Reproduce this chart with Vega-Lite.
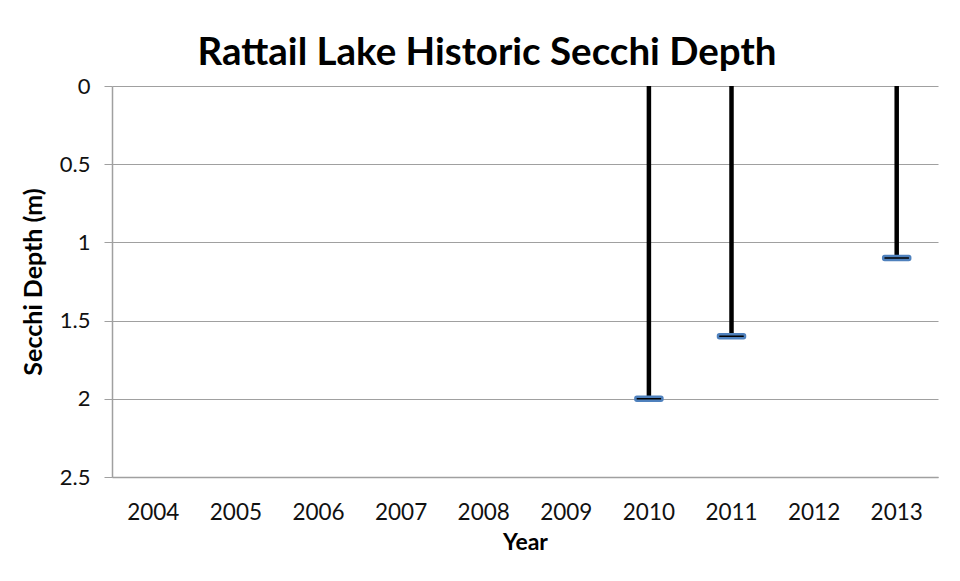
{
  "$schema": "https://vega.github.io/schema/vega-lite/v6.json",
  "width": 826,
  "height": 391,
  "autosize": {"type": "none"},
  "padding": {"left": 112, "top": 86, "right": 22, "bottom": 104},
  "background": "white",
  "title": {
    "text": "Rattail Lake Historic Secchi Depth",
    "font": "Lato",
    "fontSize": 38.5,
    "fontWeight": "bold",
    "color": "#000000",
    "anchor": "middle",
    "dx": -38,
    "offset": 2
  },
  "config": {
    "view": {"stroke": null},
    "font": "Lato"
  },
  "data": {
    "values": [
      {"year": "2010", "depth": 2.0},
      {"year": "2011", "depth": 1.6},
      {"year": "2013", "depth": 1.1}
    ]
  },
  "encoding": {
    "x": {
      "field": "year",
      "type": "ordinal",
      "scale": {"domain": ["2004", "2005", "2006", "2007", "2008", "2009", "2010", "2011", "2012", "2013"], "paddingInner": 0, "paddingOuter": 0},
      "axis": {
        "title": "Year",
        "titleFont": "Lato",
        "titleFontSize": 23,
        "titleFontWeight": "bold",
        "titleColor": "#000000",
        "titlePadding": 8,
        "labelAngle": 0,
        "labelFontSize": 22.5,
        "labelColor": "#111111",
        "labelPadding": 24,
        "ticks": false,
        "domainColor": "#a0a0a0",
        "domainWidth": 1.5
      }
    },
    "y": {
      "field": "depth",
      "type": "quantitative",
      "scale": {"domain": [0, 2.5], "reverse": true, "nice": false},
      "axis": {
        "title": "Secchi Depth (m)",
        "titleFont": "Lato",
        "titleFontSize": 25,
        "titleFontWeight": "bold",
        "titleColor": "#000000",
        "titlePadding": 13,
        "values": [0, 0.5, 1, 1.5, 2, 2.5],
        "format": "~g",
        "labelFontSize": 22,
        "labelColor": "#111111",
        "labelPadding": 14,
        "tickSize": 8,
        "tickColor": "#a0a0a0",
        "domainColor": "#a0a0a0",
        "domainWidth": 1.5,
        "gridColor": "#a0a0a0",
        "gridWidth": 1.2
      }
    }
  },
  "layer": [
    {
      "mark": {"type": "rule", "color": "#000000", "strokeWidth": 4.5},
      "encoding": {
        "y": {"datum": 0},
        "y2": {"field": "depth"}
      }
    },
    {
      "mark": {"type": "tick", "size": 27, "thickness": 4, "fill": "#000000", "stroke": "#4f81bd", "strokeWidth": 2.5, "opacity": 1, "fillOpacity": 1, "cornerRadius": 1.5},
      "encoding": {}
    }
  ]
}
